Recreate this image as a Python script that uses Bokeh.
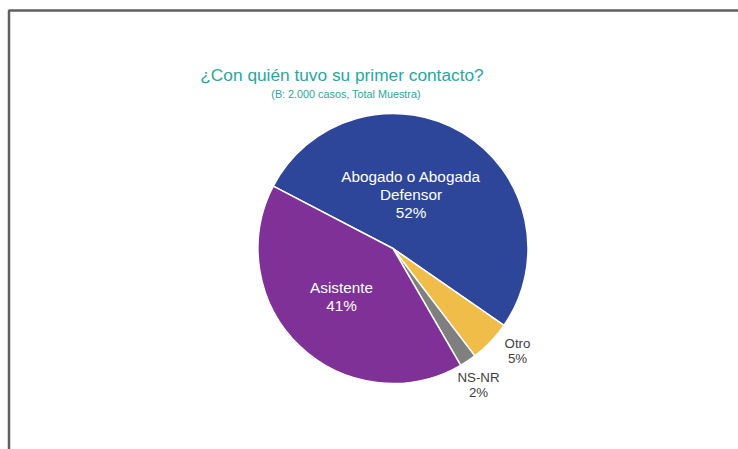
import math
from bokeh.plotting import figure
from bokeh.models import Range1d, ColumnDataSource
from bokeh.core.properties import value
from bokeh.embed import file_html
from bokeh.resources import INLINE

# ---- data ----
categories = ["Abogado o Abogada Defensor", "Otro", "NS-NR", "Asistente"]
percents = [52, 5, 2, 41]
pct_labels = ["52%", "5%", "2%", "41%"]
label_lines = [["Abogado o Abogada", "Defensor"], ["Otro"], ["NS-NR"], ["Asistente"]]
title_text = "¿Con quién tuvo su primer contacto?"
subtitle_text = "(B: 2.000 casos, Total Muestra)"

# ---- styles / layout ----
colors = ["#2E4699", "#F0BE48", "#7F7F7F", "#7F3198"]
label_colors = ["white", "#404040", "#404040", "white"]
label_sizes = ["15.3px", "13.3px", "13.3px", "15.3px"]
label_pos = [(410.5, 255.5), (517, 99), (478, 64.5), (341, 153)]  # centre of label block (px from bottom-left)
line_step = [18, 15, 15, 18]

W, H = 738, 449
CX, CY, R = 392.5, 201, 135
START_DEG = 152.5
FONT = "Liberation Sans, Arial, sans-serif"

p = figure(width=W, height=H, output_backend="svg", toolbar_location=None,
           x_range=Range1d(0, W), y_range=Range1d(0, H),
           x_axis_location=None, y_axis_location=None, min_border=0)
p.grid.visible = False
p.outline_line_color = None
p.background_fill_color = "white"

# frame (only left/top edges visible in the reference)
p.line(x=[8.5, 8.5, W + 5], y=[-5, H - 10, H - 10], line_color="#606060", line_width=2.5)

# pie wedges
total = float(sum(percents))
starts, ends = [], []
acc = 0.0
for v in percents:
    s = START_DEG - acc / total * 360.0
    e = s - v / total * 360.0
    starts.append(math.radians(s))
    ends.append(math.radians(e))
    acc += v
src = ColumnDataSource(dict(x=[CX] * len(percents), y=[CY] * len(percents),
                            start=starts, end=ends, color=colors))
p.wedge(x="x", y="y", radius=R, start_angle="start", end_angle="end",
        direction="clock", fill_color="color", line_color="white", line_width=1.5,
        source=src)

# labels
for lines, pct, (lx, ly), col, sz, step in zip(label_lines, pct_labels, label_pos,
                                                label_colors, label_sizes, line_step):
    all_lines = lines + [pct]
    n = len(all_lines)
    ys = [ly + (n - 1) / 2 * step - i * step for i in range(n)]
    p.text(x=[lx] * n, y=ys, text=all_lines, text_align="center", text_baseline="middle",
           text_color=col, text_font=value(FONT), text_font_size=sz)

# title & subtitle
p.text(x=[341.5], y=[375], text=[title_text], text_align="center", text_baseline="middle",
       text_color="#2AA79C", text_font=value(FONT), text_font_size="17.3px")
p.text(x=[345.5], y=[355.5], text=[subtitle_text], text_align="center", text_baseline="middle",
       text_color="#2AA79C", text_font=value(FONT), text_font_size="10.8px")

open("out.html", "w").write(file_html(p, INLINE))
